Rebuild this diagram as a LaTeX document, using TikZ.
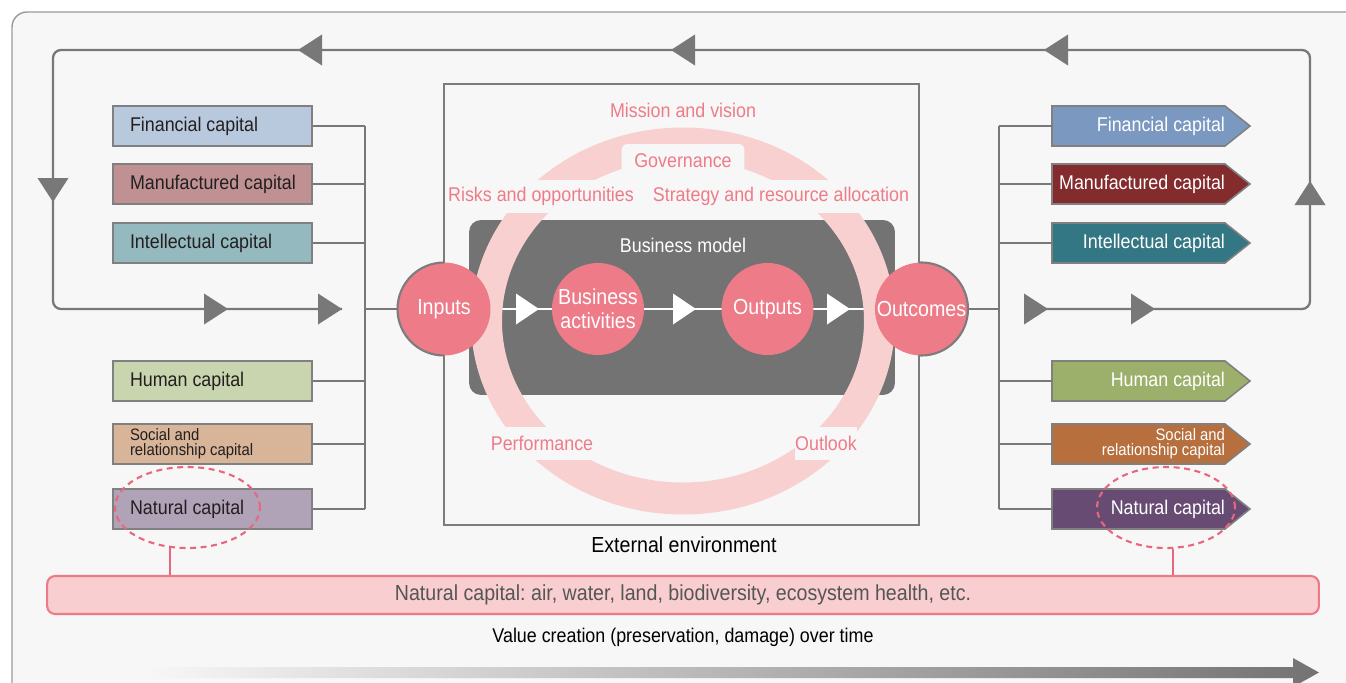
\documentclass[tikz,border=0pt]{standalone}
\usepackage{fontspec}
\setmainfont{Liberation Sans}[FakeStretch=0.9]
\usepackage{xcolor}
\usepackage{tikz}
\usetikzlibrary{positioning, shapes.geometric}
\frenchspacing

\definecolor{bgcol}{HTML}{F7F7F7}
\definecolor{framegray}{HTML}{7C7C7C}
\definecolor{outergray}{HTML}{9A9A9A}
\definecolor{wiregray}{HTML}{787878}
\definecolor{boxgray}{HTML}{808080}
\definecolor{boxtext}{HTML}{231F20}
\definecolor{bmgray}{HTML}{737373}
\definecolor{circpink}{HTML}{EE7B88}
\definecolor{labelpink}{HTML}{EF7B89}
\definecolor{ringpink}{HTML}{F8D0D0}
\definecolor{dashpink}{HTML}{E8677E}
\definecolor{barfill}{HTML}{F9CED1}
\definecolor{barline}{HTML}{EE7A87}
\definecolor{bartext}{HTML}{555555}
\definecolor{arrowgray}{HTML}{737373}
\definecolor{finL}{HTML}{B9C9DD}
\definecolor{manL}{HTML}{C09192}
\definecolor{intL}{HTML}{94B9BF}
\definecolor{humL}{HTML}{C9D5AE}
\definecolor{socL}{HTML}{D8B498}
\definecolor{natL}{HTML}{B0A2B7}
\definecolor{finR}{HTML}{7B98C1}
\definecolor{manR}{HTML}{842B2D}
\definecolor{intR}{HTML}{347784}
\definecolor{humR}{HTML}{9CB06B}
\definecolor{socR}{HTML}{B66F3D}
\definecolor{natR}{HTML}{674B73}

\pgfdeclarelayer{back}
\pgfdeclarelayer{flow}
\pgfsetlayers{back,flow,main}

\newcommand\fbase{\fontsize{11.3}{13}\selectfont}
\newcommand\fsmall{\fontsize{9.4}{8.6}\selectfont}
\newcommand\fcirc{\fontsize{12.4}{13.6}\selectfont}
\newcommand\fbar{\fontsize{12.4}{14}\selectfont}

\begin{document}
\begin{tikzpicture}[x=0.02cm, y=-0.02cm, font=\fbase,
    inbox/.style={draw=boxgray, line width=1.1pt, minimum height=0.8cm, text width=3.3cm,
        inner xsep=0.34cm, inner ysep=0pt, align=flush left, text=boxtext},
    outlabel/.style={minimum height=0.8cm, text width=3.46cm, inner sep=0pt, align=flush right, text=white},
    capcirc/.style={circle, fill=circpink, minimum size=1.86cm, inner sep=0pt, text=white,
        align=center, font=\fcirc},
    wire/.style={draw=wiregray, line width=1.1pt},
    loopline/.style={draw=wiregray, line width=1.3pt, rounded corners=0.16cm},
    ringlabel/.style={text=labelpink, fill=bgcol, inner sep=0pt, minimum height=0.66cm},
    natring/.style={ellipse, draw=dashpink, line width=1.2pt, dash pattern=on 3.4pt off 2.6pt,
        minimum width=2.9cm, minimum height=1.62cm},
    pinkline/.style={draw=dashpink, line width=1.2pt}]

    \useasboundingbox (0,0) rectangle (1346,683);

    \begin{pgfonlayer}{back}
        \fill[white] (0,0) rectangle (1346,683);
        \draw[draw=outergray, fill=bgcol, line width=0.8pt, rounded corners=0.3cm] (12,12) rectangle (1370,705);
        \draw[draw=framegray, line width=1.3pt] (444,84) rectangle (919,525);
        \node[fill=bmgray, rounded corners=0.24cm, minimum width=8.52cm, minimum height=3.5cm] (bm) at (682,307.5) {};
    \end{pgfonlayer}

    % feedback loop
    \draw[loopline] (342,309) -- (53,309) -- (53,50) -- (1310,50) -- (1310,309) -- (1024,309);
    \foreach \x/\y/\a in {298/50/180, 671/50/180, 1044/50/180, 53/202/-90, 228/309/0,
        342/309/0, 1310/181/90, 1048/309/0, 1155/309/0} {
        \fill[wiregray, rotate around={\a:(\x,\y)}] (\x,\y) -- ++(-24,-15.5) -- ++(0,31) -- cycle;
    }

    % input capitals
    \foreach \n/\y/\c/\t in {fin/126/finL/Financial capital, man/184/manL/{\mbox{Manufactured capital}},
        int/243/intL/Intellectual capital, hum/381/humL/Human capital,
        soc/444/socL/{\fsmall Social and\\relationship capital\endgraf}, nat/509/natL/Natural capital} {
        \node[inbox, fill=\c] (l\n) at (212.5,\y) {\t};
    }

    % output capitals
    \foreach \n/\y/\c/\t in {fin/126/finR/Financial capital, man/184/manR/Manufactured capital,
        int/243/intR/Intellectual capital, hum/381/humR/Human capital,
        soc/444/socR/{\fsmall Social and\\relationship capital\endgraf}, nat/509/natR/Natural capital} {
        \filldraw[fill=\c, draw=boxgray, line width=0.9pt] (1052,\y-20) -- (1225,\y-20) -- (1250,\y)
            -- (1225,\y+20) -- (1052,\y+20) -- cycle;
        \node[outlabel] (r\n) at (1138.5,\y) {\t};
    }

    \coordinate (busL) at (365,309);
    \coordinate (busR) at (999,309);
    \foreach \n in {fin,man,int,hum,soc,nat} {
        \draw[wire] (l\n.east) -- (l\n.east -| busL);
        \draw[wire] (r\n.west -| busR) -- (r\n.west);
    }
    \draw[wire] (lfin.east -| busL) -- (lnat.east -| busL);
    \draw[wire] (rfin.west -| busR) -- (rnat.west -| busR);

    % ring round the business model
    \fill[ringpink, even odd rule] (683,321) ellipse [x radius=212, y radius=193.5]
        (683,321) ellipse [x radius=181, y radius=161.5];
    \node[text=labelpink] (mission) at (683,110) {Mission and vision};
    \node[ringlabel, minimum width=2.46cm, minimum height=0.68cm, rounded corners=0.12cm] (gov) at (683,161) {Governance};
    \node[ringlabel] (risk) at (541,196) {Risks and opportunities};
    \node[ringlabel] (strat) at (781,196) {Strategy and resource allocation};
    \node[ringlabel] (perf) at (542,443) {Performance};
    \node[ringlabel] (outl) at (826,443) {Outlook};
    \node[text=white] (bmtitle) at (683,245) {Business model};
    \node[font=\fbar, text=black] (env) at (684,545) {External environment};

    \node[capcirc] (inputs) at (444,309) {Inputs};
    \node[capcirc, minimum size=1.84cm] (bact) at (598,309) {Business\\activities};
    \node[capcirc, minimum size=1.84cm] (outp) at (767.5,309) {Outputs};
    \node[capcirc] (outc) at (921.5,309) {Outcomes};
    \begin{scope}
        \clip (0,0) rectangle (444,683);
        \draw[framegray, line width=1.2pt] (inputs.center) circle [radius=46.5];
    \end{scope}
    \begin{scope}
        \clip (919,0) rectangle (1346,683);
        \draw[framegray, line width=1.2pt] (outc.center) circle [radius=46.5];
    \end{scope}
    \draw[wire] (busL) -- (inputs);
    \draw[wire] (outc) -- (busR);

    \begin{pgfonlayer}{flow}
        \draw[white, line width=1.7pt] (inputs) -- (outc);
        \foreach \x in {539, 696, 850}
            \fill[white] (\x,309) -- ++(-23,-15.5) -- ++(0,31) -- cycle;
    \end{pgfonlayer}

    % natural capital
    \node[natring] (nrL) at (187.5,507.5) {};
    \node[natring, minimum width=2.76cm] (nrR) at (1166,507.5) {};
    \node[draw=barline, fill=barfill, line width=1.2pt, rounded corners=0.16cm, minimum width=25.44cm,
        minimum height=0.76cm, text=bartext, font=\fbar] (bar) at (683,595)
        {Natural capital: air, water, land, biodiversity, ecosystem health, etc.};
    \draw[pinkline] (nrL.247) -- (nrL.247 |- bar.north);
    \draw[pinkline] (nrR.280) -- (nrR.280 |- bar.north);

    \node[text=black] (value) at (683,637) {Value creation (preservation, damage) over time};
    \shade[left color=bgcol, right color=arrowgray] (146,667) -- (1293,667) -- (1293,658) -- (1319,672.5)
        -- (1293,687) -- (1293,678) -- (146,678) -- cycle;
\end{tikzpicture}
\end{document}
